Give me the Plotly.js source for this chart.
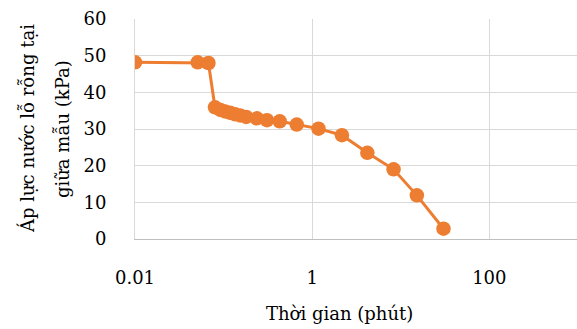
<!DOCTYPE html>
<html>
<head>
<meta charset="utf-8">
<script src="https://cdn.plot.ly/plotly-3.0.1.min.js"></script>
<style>html,body{margin:0;padding:0;background:#fff;}#chart{width:577px;height:329px;}</style>
</head>
<body>
<div id="chart"></div>
<script>
// Time (minutes) and pore pressure (kPa)
var timeMin = [0.01, 0.051, 0.0675, 0.080, 0.092, 0.104, 0.119, 0.135, 0.154, 0.18, 0.237, 0.309, 0.43, 0.67, 1.18, 2.17, 4.2, 8.3, 15.2, 30.4];
var porePressure = [48.2, 48.2, 48.0, 35.9, 35.2, 34.8, 34.4, 34.0, 33.7, 33.3, 32.9, 32.4, 32.1, 31.2, 30.1, 28.3, 23.5, 19.0, 11.9, 2.8];
var xTickVals = [0.01, 1, 100];
var xTickText = ["0.01", "1", "100"];
var yTitleLines = ["Áp lực nước lỗ rỗng tại", "giữa mẫu (kPa)"];
var xTitleText = "Thời gian (phút)";

var fontFam = "DejaVu Serif, serif";
var trace = {
  x: timeMin, y: porePressure, type: "scatter", mode: "lines+markers",
  line: {color: "#ED7D31", width: 3},
  marker: {color: "#ED7D31", size: 14.5},
  hoverinfo: "x+y"
};
var layout = {
  width: 577, height: 329,
  margin: {l: 135, r: 0, t: 19, b: 90},
  paper_bgcolor: "#fff", plot_bgcolor: "#fff",
  showlegend: false,
  font: {family: fontFam, size: 18, color: "#000"},
  xaxis: {
    type: "log", range: [-2, 2.99],
    tickvals: xTickVals, ticktext: xTickText,
    showgrid: true, gridcolor: "#d9d9d9", gridwidth: 1,
    showline: true, linecolor: "#bfbfbf", linewidth: 1,
    ticks: "", ticklabelstandoff: 22, zeroline: false,
    tickfont: {family: fontFam, size: 18, color: "#000"}
  },
  yaxis: {
    range: [0, 60], dtick: 10, tick0: 0,
    showgrid: true, gridcolor: "#d9d9d9", gridwidth: 1,
    showline: true, linecolor: "#d9d9d9", linewidth: 1, mirror: false,
    ticks: "", ticklabelstandoff: 24, zeroline: false,
    tickfont: {family: fontFam, size: 18, color: "#000"}
  },
  annotations: [
    {text: yTitleLines[0], xref: "paper", yref: "paper", x: 0, y: 0.5, xanchor: "center", yanchor: "middle",
     xshift: -108, textangle: -90, showarrow: false, font: {family: fontFam, size: 18, color: "#000"}},
    {text: yTitleLines[1], xref: "paper", yref: "paper", x: 0, y: 0.5, xanchor: "center", yanchor: "middle",
     xshift: -73, textangle: -90, showarrow: false, font: {family: fontFam, size: 18, color: "#000"}},
    {text: xTitleText, xref: "paper", yref: "paper", x: 0, y: 0, xanchor: "center", yanchor: "middle",
     xshift: 204, yshift: -74, showarrow: false, font: {family: fontFam, size: 18, color: "#000"}}
  ]
};
Plotly.newPlot("chart", [trace], layout, {displayModeBar: false, staticPlot: true});
</script>
</body>
</html>
